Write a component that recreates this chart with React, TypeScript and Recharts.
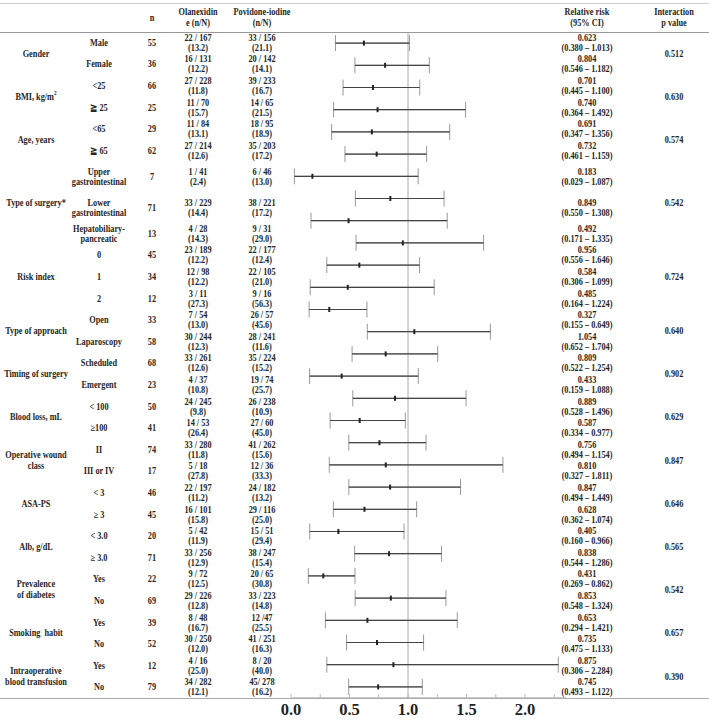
import React from 'react';
import { ScatterChart, Scatter, XAxis, YAxis, ErrorBar, ReferenceLine } from 'recharts';

// ---------- data ----------
const groupLabels: string[][] = [
  ['Gender'], ['BMI, kg/m²'], ['Age, years'], ['Type of surgery*'], ['Risk index'],
  ['Type of approach'], ['Timing of surgery'], ['Blood loss, mL'], ['Operative wound', 'class'],
  ['ASA-PS'], ['Alb, g/dL'], ['Prevalence', 'of diabetes'], ['Smoking  habit'],
  ['Intraoperative', 'blood transfusion'],
];
const groupSizes = [2, 2, 2, 3, 3, 2, 2, 2, 2, 2, 2, 2, 2, 2];
const pValues = ['0.512', '0.630', '0.574', '0.542', '0.724', '0.640', '0.902', '0.629', '0.847', '0.646', '0.565', '0.542', '0.657', '0.390'];

const subgroups: string[][] = [
  ['Male'], ['Female'], ['<25'], ['≧ 25'], ['<65'], ['≧ 65'],
  ['Upper', 'gastrointestinal'], ['Lower', 'gastrointestinal'], ['Hepatobiliary-', 'pancreatic'],
  ['0'], ['1'], ['2'], ['Open'], ['Laparoscopy'], ['Scheduled'], ['Emergent'],
  ['< 100'], ['≥100'], ['II'], ['III or IV'], ['< 3'], ['≥ 3'], ['< 3.0'], ['≥ 3.0'],
  ['Yes'], ['No'], ['Yes'], ['No'], ['Yes'], ['No'],
];
const nValues = [55, 36, 66, 25, 29, 62, 7, 71, 13, 45, 34, 12, 33, 58, 68, 23, 50, 41, 74, 17, 46, 45, 20, 71, 22, 69, 39, 52, 12, 79];
const olanexidine = ['22 / 167', '16 / 131', '27 / 228', '11 / 70', '11 / 84', '27 / 214', '1 / 41', '33 / 229', '4 / 28', '23 / 189', '12 / 98', '3 / 11', '7 / 54', '30 / 244', '33 / 261', '4 / 37', '24 / 245', '14 / 53', '33 / 280', '5 / 18', '22 / 197', '16 / 101', '5 / 42', '33 / 256', '9 / 72', '29 / 226', '8 / 48', '30 / 250', '4 / 16', '34 / 282'];
const olanexidinePct = ['13.2', '12.2', '11.8', '15.7', '13.1', '12.6', '2.4', '14.4', '14.3', '12.2', '12.2', '27.3', '13.0', '12.3', '12.6', '10.8', '9.8', '26.4', '11.8', '27.8', '11.2', '15.8', '11.9', '12.9', '12.5', '12.8', '16.7', '12.0', '25.0', '12.1'];
const povidone = ['33 / 156', '20 / 142', '39 / 233', '14 / 65', '18 / 95', '35 / 203', '6 / 46', '38 / 221', '9 / 31', '22 / 177', '22 / 105', '9 / 16', '26 / 57', '28 / 241', '35 / 224', '19 / 74', '26 / 238', '27 / 60', '41 / 262', '12 / 36', '24 / 182', '29 / 116', '15 / 51', '38 / 247', '20 / 65', '33 / 223', '12 /47', '41 / 251', '8 / 20', '45/ 278'];
const povidonePct = ['21.1', '14.1', '16.7', '21.5', '18.9', '17.2', '13.0', '17.2', '29.0', '12.4', '21.0', '56.3', '45.6', '11.6', '15.2', '25.7', '10.9', '45.0', '15.6', '33.3', '13.2', '25.0', '29.4', '15.4', '30.8', '14.8', '25.5', '16.3', '40.0', '16.2'];
const rrValues = [0.623, 0.804, 0.701, 0.740, 0.691, 0.732, 0.183, 0.849, 0.492, 0.956, 0.584, 0.485, 0.327, 1.054, 0.809, 0.433, 0.889, 0.587, 0.756, 0.810, 0.847, 0.628, 0.405, 0.838, 0.431, 0.853, 0.653, 0.735, 0.875, 0.745];
const ciLow = [0.380, 0.546, 0.445, 0.364, 0.347, 0.461, 0.029, 0.550, 0.171, 0.556, 0.306, 0.164, 0.155, 0.652, 0.522, 0.159, 0.528, 0.334, 0.494, 0.327, 0.494, 0.362, 0.160, 0.544, 0.269, 0.548, 0.294, 0.475, 0.306, 0.493];
const ciHigh = [1.013, 1.182, 1.100, 1.492, 1.356, 1.159, 1.087, 1.308, 1.335, 1.646, 1.099, 1.224, 0.649, 1.704, 1.254, 1.088, 1.496, 0.977, 1.154, 1.811, 1.449, 1.074, 0.966, 1.286, 0.862, 1.324, 1.421, 1.133, 2.284, 1.122];

// values as drawn in the forest plot (one row is drawn differently from its table entry)
const plotRR = [0.623, 0.804, 0.701, 0.740, 0.691, 0.732, 0.183, 0.849, 0.492, 0.956, 0.584, 0.485, 0.327, 1.054, 0.809, 0.433, 0.889, 0.587, 0.756, 0.810, 0.847, 0.628, 0.405, 0.838, 0.276, 0.853, 0.653, 0.735, 0.875, 0.745];
const plotLow = [0.380, 0.546, 0.445, 0.364, 0.347, 0.461, 0.029, 0.550, 0.171, 0.556, 0.306, 0.164, 0.155, 0.652, 0.522, 0.159, 0.528, 0.334, 0.494, 0.327, 0.494, 0.362, 0.160, 0.544, 0.148, 0.548, 0.294, 0.475, 0.306, 0.493];
const plotHigh = [1.013, 1.182, 1.100, 1.492, 1.356, 1.159, 1.087, 1.308, 1.335, 1.646, 1.099, 1.224, 0.649, 1.704, 1.254, 1.088, 1.496, 0.977, 1.154, 1.811, 1.449, 1.074, 0.966, 1.286, 0.547, 1.324, 1.421, 1.133, 2.284, 1.122];

const xTicks = [0, 0.25, 0.5, 0.75, 1, 1.25, 1.5, 1.75, 2, 2.25];

// ---------- layout ----------
const W = 709;
const H = 720;
const BODY_TOP = 32;
const BODY_BOTTOM = 698;
const rowHeights = [21.6, 21.6, 21.6, 21.6, 21.6, 21.6, 31, 31, 21,
  21.6, 21.6, 21.6, 21.6, 21.6, 21.6, 21.6, 21.6, 21.6, 21.6, 21.6, 21.6, 21.6, 21.6, 21.6, 21.6, 21.6, 21.6, 21.6, 21.6, 21.6];
const COL = { group: 36, sub: 99, n: 152, ola: 198, pov: 262, rr: 587, p: 674 };

const rowTops: number[] = [];
{
  let t = BODY_TOP;
  rowHeights.forEach((h) => { rowTops.push(t); t += h; });
}
const rowCenter = (i: number) => rowTops[i] + rowHeights[i] / 2;

const FONT = '"Liberation Serif", "Times New Roman", serif';

const T: React.FC<{ x: number; y: number; lines: React.ReactNode[]; lh?: number }> = ({ x, y, lines, lh = 10 }) => (
  <div
    style={{
      position: 'absolute', left: x, top: y,
      transform: 'translate(-50%, -50%) scaleX(0.87)',
      whiteSpace: 'pre', textAlign: 'center', lineHeight: `${lh}px`,
      fontFamily: FONT, fontWeight: 700, fontSize: 9.5, color: '#262626',
    }}
  >
    {lines.map((l, k) => <div key={k}>{l}</div>)}
  </div>
);

const HLine: React.FC<{ y: number; color: string }> = ({ y, color }) => (
  <div style={{ position: 'absolute', left: 0, top: y, width: W, height: 1, background: color }} />
);

const Marker = (props: any) => {
  const { cx, cy } = props;
  if (cx == null || cy == null) return null;
  return <rect x={cx - 1} y={cy - 2.5} width={2} height={5} fill="#222" />;
};

const Tick = (props: any) => {
  const { x, y, payload } = props;
  const v = payload.value as number;
  const major = Math.abs(v * 2 - Math.round(v * 2)) < 1e-6;
  return (
    <g>
      <line x1={x} x2={x} y1={y - 4} y2={y} stroke="#bbb" />
      {major && (
        <text x={x} y={y + 17} textAnchor="middle" fontFamily={FONT} fontWeight={700} fontSize={16.5} fill="#222">
          {v.toFixed(1)}
        </text>
      )}
    </g>
  );
};

export default function App() {
  const plotData = plotRR.map((v, i) => ({
    x: v,
    y: i,
    err: [v - plotLow[i], plotHigh[i] - v],
  }));

  // group spans
  const groupSpans: { top: number; bottom: number }[] = [];
  let r = 0;
  groupSizes.forEach((s) => {
    const top = rowTops[r];
    const bottom = rowTops[r + s - 1] + rowHeights[r + s - 1];
    groupSpans.push({ top, bottom });
    r += s;
  });

  return (
    <div style={{ position: 'absolute', left: 0, top: 0, width: W, height: H, background: '#fff', overflow: 'hidden' }}>
      {/* header */}
      <T x={COL.n} y={18} lines={['n']} />
      <T x={COL.ola} y={17.5} lines={['Olanexidin', 'e (n/N)']} lh={11} />
      <T x={COL.pov} y={17.5} lines={['Povidone-iodine', '(n/N)']} lh={11} />
      <T x={COL.rr} y={17.5} lines={['Relative risk', '(95% CI)']} lh={11} />
      <T x={COL.p} y={17.5} lines={['Interaction', 'p value']} lh={11} />

      {/* group labels and p values */}
      {groupLabels.map((g, i) => {
        const c = (groupSpans[i].top + groupSpans[i].bottom) / 2;
        return (
          <React.Fragment key={'g' + i}>
            <T x={COL.group} y={c} lines={g.map((s) => s === 'BMI, kg/m²' ? <span>BMI, kg/m<sup style={{ fontSize: 6, verticalAlign: 'super', lineHeight: 0 }}>2</sup></span> : s)} lh={11} />
            <T x={COL.p} y={c} lines={[pValues[i]]} />
          </React.Fragment>
        );
      })}

      {/* rows */}
      {subgroups.map((s, i) => {
        const c = rowCenter(i);
        return (
          <React.Fragment key={'r' + i}>
            <T x={COL.sub} y={c} lines={s} />
            <T x={COL.n} y={c} lines={[String(nValues[i])]} />
            <T x={COL.ola} y={c} lines={[olanexidine[i], `(${olanexidinePct[i]})`]} />
            <T x={COL.pov} y={c} lines={[povidone[i], `(${povidonePct[i]})`]} />
            <T x={COL.rr} y={c} lines={[rrValues[i].toFixed(3), `(${ciLow[i].toFixed(3)} – ${ciHigh[i].toFixed(3)})`]} />
          </React.Fragment>
        );
      })}

      {/* forest plot */}
      <div style={{ position: 'absolute', left: 0, top: 0 }}>
        <ScatterChart width={W} height={H} margin={{ top: BODY_TOP, right: 143, bottom: 0, left: 291 }} style={{ overflow: 'visible' }}>
          <XAxis
            type="number" dataKey="x" domain={[0, 2.35]} ticks={xTicks} allowDataOverflow
            height={H - BODY_BOTTOM} tickSize={0} tickMargin={0} tickLine={false}
            axisLine={{ stroke: '#999' }} tick={<Tick />} interval={0}
          />
          <YAxis type="number" dataKey="y" domain={[-0.5, 29.5]} reversed hide width={0} allowDataOverflow />
          <ReferenceLine x={1} stroke="#aaa" strokeWidth={1} />
          <Scatter data={plotData} isAnimationActive={false} shape={<Marker />}>
            <ErrorBar dataKey="err" direction="x" width={8} stroke="#999" strokeWidth={1} isAnimationActive={false} />
            <ErrorBar dataKey="err" direction="x" width={0} stroke="#444" strokeWidth={1.2} isAnimationActive={false} />
          </Scatter>
        </ScatterChart>
      </div>

      <HLine y={3} color="#ccc" />
      <HLine y={BODY_TOP} color="#999" />
      <HLine y={BODY_BOTTOM} color="#aaa" />
    </div>
  );
}
